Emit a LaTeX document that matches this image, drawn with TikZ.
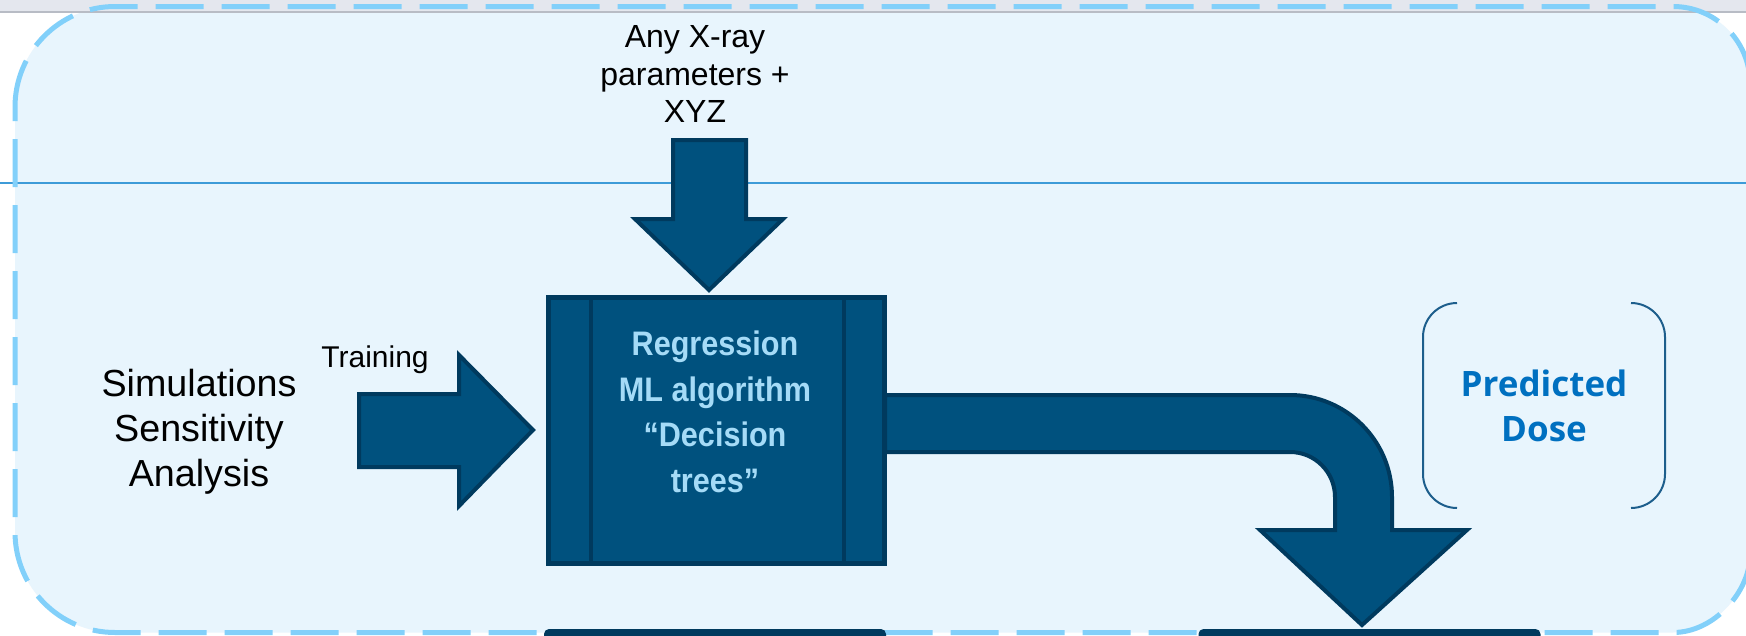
\documentclass[tikz,border=0pt]{standalone}
\usepackage{fontspec}
\setmainfont{Liberation Sans}
\newfontfamily\mlfont{Liberation Sans}[FakeStretch=0.9]
\newfontfamily\dosefont{Open Sans}

\definecolor{panelfill}{HTML}{E8F5FD}
\definecolor{paneldash}{HTML}{82D0FA}
\definecolor{splitblue}{HTML}{3D9BD8}
\definecolor{arrowblue}{HTML}{00517E}
\definecolor{arrowedge}{HTML}{003A5E}
\definecolor{mlblue}{HTML}{A5DBF7}
\definecolor{doseblue}{HTML}{0070C0}
\definecolor{bracketblue}{HTML}{1D5E8C}
\definecolor{bandgray}{HTML}{E4E7EE}
\definecolor{bandedge}{HTML}{B8BCC5}

\begin{document}
\begin{tikzpicture}[x=1pt,y=-1pt,
  block arrow/.style={fill=arrowblue,draw=arrowedge,line width=4pt,line join=miter},
  frame line/.style={draw=paneldash,line width=5pt,dash pattern=on 48pt off 18pt},
  plain text/.style={align=center,inner sep=0pt,text=black},
  ml box/.style={rectangle,fill=arrowblue,draw=arrowedge,line width=5pt,minimum width=336pt,
    minimum height=266pt,inner sep=0pt,outer sep=0pt},
  ml text/.style={align=center,inner sep=0pt,text=mlblue,font=\mlfont\bfseries\fontsize{34}{45.5}\selectfont},
  dose node/.style={align=center,inner sep=0pt,outer sep=0pt,minimum width=242pt,minimum height=205pt,
    text=doseblue,font=\dosefont\bfseries\fontsize{35}{45}\selectfont},
  bracket/.style={draw=bracketblue,line width=2pt,rounded corners=34pt},
  next box/.style={rectangle,rounded corners=5pt,fill=arrowedge,minimum width=342pt,minimum height=40pt}]

  \useasboundingbox (0,0) rectangle (1746,635);
  \clip (0,0) rectangle (1746,635);
  \fill[white] (0,0) rectangle (1746,635);

  % panel
  \fill[panelfill] (15,107) .. controls (15,51.8) and (59.8,6.5) .. (115,6.5) -- (1673,6.5)
    .. controls (1715.5,6.5) and (1750,41) .. (1750,83.5) -- (1750,555.5)
    .. controls (1750,590) and (1715.5,632.5) .. (1673,632.5) -- (115,632.5)
    .. controls (59.8,632.5) and (15,587.8) .. (15,532) -- cycle;
  \fill[bandgray] (0,0) rectangle (1746,11);
  \draw[bandedge,line width=2pt] (0,11.5) -- (1746,11.5);
  \draw[splitblue,line width=2.5pt] (0,183) -- (1746,183);
  \draw[frame line] (15,107) .. controls (15,51.8) and (59.8,6.5) .. (115,6.5) -- (1673,6.5)
    .. controls (1715.5,6.5) and (1750,41) .. (1750,83.5) -- (1750,555.5)
    .. controls (1750,590) and (1715.5,632.5) .. (1673,632.5) -- (115,632.5)
    .. controls (59.8,632.5) and (15,587.8) .. (15,532) -- cycle;

  \node[next box] (nextl) at (715,649) {};
  \node[next box] (nextr) at (1369.5,649) {};

  \node[plain text,font=\fontsize{37.7}{45}\selectfont] (sim) at (199,432) {Simulations\\Sensitivity\\Analysis};
  \node[plain text,font=\fontsize{30}{36}\selectfont] (train) at (375,360) {Training};
  \node[plain text,font=\fontsize{32}{37.5}\selectfont] (xray) at (695,74) {Any X-ray\\parameters +\\XYZ};

  % block arrows
  \draw[block arrow] (533,430) -- (459,355) -- (459,394) -- (359,394) -- (359,467)
    -- (459,467) -- (459,506) -- cycle;
  \draw[block arrow] (709,290) -- (635,219) -- (673,219) -- (673,140) -- (746,140)
    -- (746,219) -- (783,219) -- cycle;
  \draw[block arrow] (885,395) -- (1290,395) .. controls (1346.3,395) and (1392,440.7) .. (1392,497)
    -- (1392,530) -- (1467,530) -- (1362,625) -- (1260,530) -- (1335,530) -- (1335,497)
    .. controls (1335,472.1) and (1314.9,452) .. (1290,452) -- (885,452) -- cycle;

  \node[ml box] (ml) at (716.5,430.5) {};
  \draw[arrowedge,line width=4pt] ([xshift=42.5pt]ml.north west) -- ([xshift=42.5pt]ml.south west);
  \draw[arrowedge,line width=4pt] ([xshift=-41pt]ml.north east) -- ([xshift=-41pt]ml.south east);
  \node[ml text] (mltxt) at (715,412) {Regression\\ML algorithm\\“Decision\\trees”};

  \node[dose node] (dose) at (1544,405.5) {Predicted\\Dose};
  \draw[bracket] ([xshift=34pt]dose.north west) -- (dose.north west) -- (dose.south west)
    -- ([xshift=34pt]dose.south west);
  \draw[bracket] ([xshift=-34pt]dose.north east) -- (dose.north east) -- (dose.south east)
    -- ([xshift=-34pt]dose.south east);

\end{tikzpicture}
\end{document}
